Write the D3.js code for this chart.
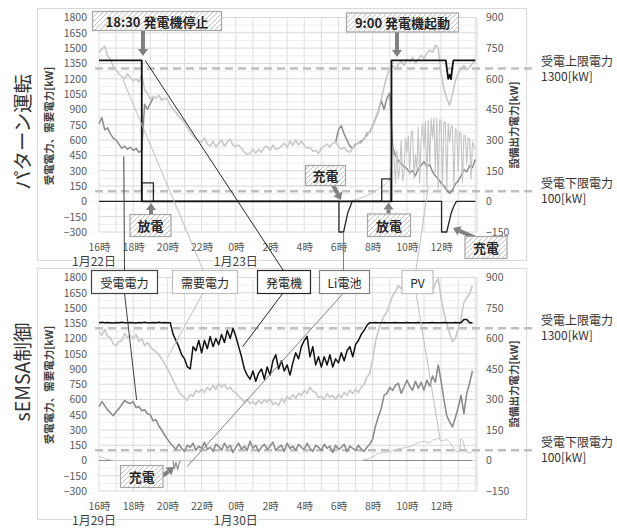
<!DOCTYPE html>
<meta charset="utf-8">
<style>
body { margin: 0; background: #fff; }
svg text { font-family: "Noto Sans CJK JP", "Noto Sans", sans-serif; }
.tick text { fill: #595959; font-size: 10.5px; }
</style>
<svg width="617" height="528"></svg>
<script src="https://cdn.jsdelivr.net/npm/d3@7/dist/d3.min.js"></script>
<script>

// ---- data (hours after 16:00, 10 minute steps unless noted) ----
var STEP = 10 / 60;
var leftTicks = [-300, -150, 0, 150, 300, 450, 600, 750, 900, 1050, 1200, 1350, 1500, 1650, 1800];
var rightTicks = [-150, 0, 150, 300, 450, 600, 750, 900];
var hourTicks = [0, 2, 4, 6, 8, 10, 12, 14, 16, 18, 20];
var hourLabels = ["16時", "18時", "20時", "22時", "0時", "2時", "4時", "6時", "8時", "10時", "12時"];
var datesTop = ["1月22日", "1月23日"];
var datesBottom = ["1月29日", "1月30日"];
var limits = [1300, 100];
var limitLabels = [["受電上限電力", "1300[kW]"], ["受電下限電力", "100[kW]"]];

// パターン運転 (1/22 - 1/23)
var topDemand = [1460,1490,1520,1420,1390,1320, 1290,1250,1220,1200,1250,1210, 1180,1200,1170,1240,1090,1060,
  1000,1030,1010,1040,990,1010, 1000,940,900,870,830,800, 770,720,680,640,610,590,
  580,620,560,540,590,530, 570,600,540,580,610,550, 540,550,520,480,460,470,
  510,470,510,480,530,540, 500,550,510,520,540,570, 530,590,550,600,550,590,
  550,520,530,490,500,470, 520,540,560,530,570,580, 540,510,530,490,480,520,
  550,580,570,620,640,690, 730,820,890,1000,1120,1230, 1300,1330,1290,1340,1370,1330,
  1390,1370,1410,1350,1390,1430, 1400,1450,1480,1460,1530,1500, 1250,1100,1010,940,1050,1180,
  1250,1300,1330,1290,1310,1350, 1390];
var topRecvA = [760,820,700,720,660,620, 600,560,520,540,510,530, 500,520,480,500, 950,900,960,1010];
var topRecvBStart = 83 * STEP;
var topRecvB = [575, 700,740,660,600,540,520, 560,570,590,610,660,680, 740,810,880,990,900,1010,
  1060,540,450,400,370,340, 320,280,300,250,320,350, 390,340,360,290,250,220,
  180,150,110,80,110,170, 200,250,310,290,350,330, 410];
var topPvMorningStart = 14.5;
var topPvMorning = [0,2,5,8,12,17,22,28,34,41,50,60,70,80,90,105];
var topPvDayStart = 17; // 5 minute steps
var topPvDay = [105,180,270,210,90,250,110,160,300,100, 140,310,240,320,130,335,345,110,230,160,
  365,90,300,380,260,390,70,395,180,405, 310,410,140,405,60,400,395,80,390,385,
  60,380,290,370,365,70,355,350,150,340, 335,90,325,320,180,312,305,110,290,270, 255];
var topGenTime = [0, 2.5, 2.5, 17.1, 17.1, 20.28, 20.35, 20.42, 20.5, 20.58, 20.65, 20.72, 22];
var topGenValue = [690, 690, 0, 0, 690, 690, 640, 600, 620, 598, 650, 690, 690];
var topBattTime = [0, 2.5, 2.5, 3.18, 3.18, 14.03, 14.03, 14.3, 14.55, 14.7, 14.8, 16.53, 16.53, 17.08, 17.08,
  20.03, 20.03, 20.33, 20.6, 20.75, 20.9, 22];
var topBattValue = [0, 0, 90, 90, 0, 0, -150, -150, -54, -23, 0, 0, 110, 110, 0,
  0, -150, -150, -54, -23, 0, 0];

// sEMSA制御 (1/29 - 1/30)
var botDemand = [1270,1230,1290,1220,1210,1150, 1130,1170,1180,1250,1210,1230, 1200,1240,1170,1200,1130,1160,
  1120,1090,1070,1040,1000,950, 900,850,790,730,680,640, 620,590,650,630,690,670,
  700,670,720,690,740,700, 760,720,750,700,720,680, 670,630,610,570,600,560,
  580,550,590,560,600,570, 610,550,570,540,610,570, 630,600,650,610,660,640,
  690,660,720,680,670,620, 630,600,660,620,640,600, 650,620,670,640,690,660,
  700,670,720,750,820,860, 990,1170,1280,1360,1420,1460, 1540,1620,1660,1720,1690,1730,
  1680,1740,1700,1770,1710,1690, 1720,1640,1690,1660,1740,1790, 1600,1450,1350,1250,1170,1200,
  1300,1400,1550,1600,1640,1720];
var botRecv = [530,580,540,500,470,440, 480,510,550,590,570,560, 580,520,530,490,500,460,
  450,390,400,340,300,250, 210,170,140,110,160,120, 90,150,130,170,100,140,
  120,180,110,130,90,160, 140,100,170,120,150,80, 130,170,110,140,100,190,
  120,150,90,130,160,110, 140,180,100,130,150,90, 170,120,140,100,160,130,
  110,170,120,90,150,130, 100,160,120,140,80,150, 110,130,160,90,140,120,
  100,150,110,90,130,160, 210,340,430,510,640,660, 720,690,740,760,660,720,
  790,730,690,780,710,770, 690,790,730,830,770,940, 780,600,440,380,330,420,
  520,640,460,660,760,880];
var botGen = [678,680,677,679,678,676, 679,678,680,677,678,679, 678,676,679,678,680,678,
  677,679,678,680,677,679, 678,677,620,590,560,520, 500,460,450,560,540,590,
  530,590,550,610,560,600, 570,620,580,640,600,650, 610,560,510,450,420,400,
  440,390,430,450,400,460, 420,490,520,450,490,440, 470,420,480,530,500,560,
  590,610,510,560,470,510, 460,510,470,520,460,500, 480,530,490,540,560,510,
  570,590,620,640,665,678, 678,679,677,678,679,678, 677,678,679,678,677,678,
  679,678,677,678,679,678, 678,677,678,679,678,677, 678,679,678,677,678,679,
  678,678,694,694,678,678];
var botBattTime = [0, 4.33, 4.4, 4.5, 4.6, 4.7, 4.8, 21.8];
var botBattValue = [0, 0, -40, -10, -45, -8, 0, 0];
var botPvTime = [0,0.17,0.33,0.5,0.67,0.83, 15.4,15.5,15.67,15.83, 16,16.17,16.33,16.5,16.67,16.83,
  17,17.17,17.33,17.5,17.67,17.83, 18,18.17,18.33,18.5,18.67,18.83, 19,19.17,19.33,19.5,19.67,19.83,
  20,20.17,20.33,20.5,20.67,20.83, 21,21.08,21.15,21.3,21.4,21.6,21.8];
var botPvValue = [20,15,10,6,3,0, 0,4,8,12, 18,26,34,38,40,42, 44,48,54,57,60,62, 65,68,72,82,88,92,
  95,90,86,100,104,110, 96,100,104,90,72,46, 44,46,110,96,46,36,44];

// ---- helpers ----
function seq(values, start, step) {
  return values.map(function(v, i) { return {t: start + i * step, v: v}; });
}
function pairs(times, values) {
  return times.map(function(t, i) { return {t: t, v: values[i]}; });
}

var svg = d3.select("svg");
var x = d3.scaleLinear().domain([0, 22.1]).range([99, 477]);

var defs = svg.append("defs");
defs.append("pattern")
  .attr("id", "hatch").attr("width", 5).attr("height", 5)
  .attr("patternUnits", "userSpaceOnUse")
  .append("path")
  .attr("d", "M-1,1 L1,-1 M0,5 L5,0 M4,6 L6,4")
  .attr("stroke", "#c4c4c4").attr("stroke-width", 1);

var panels = [
  {
    y0: 232, y1: 17.5, frame: [8, 260], dates: datesTop, side: "パターン運転", sideY: 132,
    series: [
      {data: seq(topRecvA, 0, STEP), axis: "L", color: "#8c8c8c", width: 1.5},
      {data: seq(topRecvB, topRecvBStart, STEP), axis: "L", color: "#8c8c8c", width: 1.5},
      {data: seq(topDemand, 0, STEP), axis: "L", color: "#c8c8c8", width: 1.6},
      {data: seq(topPvMorning, topPvMorningStart, STEP), axis: "R", color: "#c8c8c8", width: 1},
      {data: seq(topPvDay, topPvDayStart, 5 / 60), axis: "R", color: "#c4c4c4", width: 1.1},
      {data: pairs(topBattTime, topBattValue), axis: "R", color: "#262626", width: 1.3},
      {data: pairs(topGenTime, topGenValue), axis: "R", color: "#111", width: 1.8}
    ]
  },
  {
    y0: 491, y1: 277.5, frame: [268, 519], dates: datesBottom, side: "sEMSA制御", sideY: 372,
    series: [
      {data: seq(botDemand, 0, STEP), axis: "L", color: "#c8c8c8", width: 1.6},
      {data: seq(botRecv, 0, STEP), axis: "L", color: "#8c8c8c", width: 1.6},
      {data: seq(botGen, 0, STEP), axis: "R", color: "#111", width: 1.5},
      {data: pairs(botBattTime, botBattValue), axis: "R", color: "#8c8c8c", width: 1.2},
      {data: pairs(botPvTime, botPvValue), axis: "R", color: "#c8c8c8", width: 1}
    ]
  }
];

panels.forEach(function(p) {
  p.yL = d3.scaleLinear().domain([-300, 1800]).range([p.y0, p.y1]);
  p.yR = d3.scaleLinear().domain([-150, 900]).range([p.y0, p.y1]);
  var g = svg.append("g");

  // chart frame
  g.append("rect")
    .attr("x", 37.5).attr("y", p.frame[0] + 0.5)
    .attr("width", 489).attr("height", p.frame[1] - p.frame[0])
    .attr("fill", "none").attr("stroke", "#d9d9d9");

  // grid
  g.selectAll(".minor").data(leftTicks.slice(1)).enter().append("line")
    .attr("x1", x(0)).attr("x2", x.range()[1])
    .attr("y1", function(d) { return p.yL(d - 75); }).attr("y2", function(d) { return p.yL(d - 75); })
    .attr("stroke", "#efefef");
  g.selectAll(".hgrid").data(leftTicks).enter().append("line")
    .attr("x1", x(0)).attr("x2", x.range()[1])
    .attr("y1", function(d) { return p.yL(d); }).attr("y2", function(d) { return p.yL(d); })
    .attr("stroke", "#d9d9d9");
  g.selectAll(".vgrid").data(d3.range(0, 23)).enter().append("line")
    .attr("x1", function(d) { return x(d); }).attr("x2", function(d) { return x(d); })
    .attr("y1", p.y1).attr("y2", p.y0)
    .attr("stroke", "#dedede");
  g.append("line")
    .attr("x1", x.range()[1]).attr("x2", x.range()[1])
    .attr("y1", p.y1).attr("y2", p.y0).attr("stroke", "#d9d9d9");

  // limit lines
  limits.forEach(function(l, i) {
    g.append("line")
      .attr("x1", 95).attr("x2", 533)
      .attr("y1", p.yL(l)).attr("y2", p.yL(l))
      .attr("stroke", "#bfbfbf").attr("stroke-width", 2.5)
      .attr("stroke-dasharray", "8,5");
    var t = g.append("text").attr("x", 541).attr("font-size", 12).attr("fill", "#333");
    t.append("tspan").attr("x", 541).attr("y", p.yL(l) - 3).text(limitLabels[i][0]);
    t.append("tspan").attr("x", 541).attr("y", p.yL(l) + 12).text(limitLabels[i][1]);
  });

  // axes
  g.append("g").attr("transform", "translate(" + x(0) + ",0)")
    .call(d3.axisLeft(p.yL).tickValues(leftTicks).tickSize(0).tickPadding(12).tickFormat(d3.format("d")))
    .call(function(a) { a.select(".domain").remove(); });
  g.append("g").attr("transform", "translate(" + x.range()[1] + ",0)")
    .call(d3.axisRight(p.yR).tickValues(rightTicks).tickSize(0).tickPadding(9).tickFormat(d3.format("d")))
    .call(function(a) { a.select(".domain").remove(); });
  g.append("g").attr("transform", "translate(0," + p.y0 + ")")
    .call(d3.axisBottom(x).tickValues(hourTicks).tickSize(0).tickPadding(12)
      .tickFormat(function(d, i) { return hourLabels[i]; }))
    .call(function(a) { a.select(".domain").remove(); });

  // date labels on the frame
  g.selectAll(".date").data(p.dates).enter().append("text")
    .attr("x", function(d, i) { return i === 0 ? x(0) - 5 : x(8); })
    .attr("y", p.frame[1] + 6)
    .attr("text-anchor", "middle").attr("font-size", 12).attr("fill", "#404040")
    .attr("stroke", "#fff").attr("stroke-width", 4).attr("paint-order", "stroke")
    .text(function(d) { return d; });

  // titles
  g.append("text")
    .attr("transform", "translate(21," + p.sideY + ") rotate(-90)")
    .attr("text-anchor", "middle").attr("dominant-baseline", "central")
    .attr("font-size", 19.5).attr("fill", "#333").text(p.side);
  g.append("text")
    .attr("transform", "translate(48.5," + (p.y0 - 106) + ") rotate(-90)")
    .attr("text-anchor", "middle").attr("dominant-baseline", "central")
    .attr("font-size", 10.5).attr("font-weight", 700).attr("fill", "#404040")
    .text("受電電力、需要電力[kW]");
  g.append("text")
    .attr("transform", "translate(513.5," + (p.y0 - 107) + ") rotate(-90)")
    .attr("text-anchor", "middle").attr("dominant-baseline", "central")
    .attr("font-size", 10.5).attr("font-weight", 700).attr("fill", "#404040")
    .text("設備出力電力[kW]");

  // series
  p.series.forEach(function(s) {
    var y = s.axis === "L" ? p.yL : p.yR;
    var line = d3.line()
      .x(function(d) { return x(d.t); })
      .y(function(d) { return y(d.v); });
    g.append("path").datum(s.data)
      .attr("d", line)
      .attr("fill", "none").attr("stroke", s.color)
      .attr("stroke-width", s.width).attr("stroke-linejoin", "round");
  });
});

var topPanel = panels[0], botPanel = panels[1];

// ---- callouts from the label row to both panels ----
var callouts = [
  {text: "受電電力", box: [91, 66], stroke: "#404040",
    a: [1.45, 440, "L"], b: [2.2, 595, "L"], cx: 124.5},
  {text: "需要電力", box: [172, 65], stroke: "#bfbfbf",
    a: [1.4, 1190, "L"], b: [4.03, 1020, "L"], cx: 203},
  {text: "発電機", box: [257, 53], stroke: "#262626",
    a: [2.7, 690, "R"], b: [8.4, 560, "R"], cx: 283},
  {text: "Li電池", box: [319, 50], stroke: "#808080",
    a: [14.3, -150, "R"], b: [5.15, -30, "R"], cx: 343.5},
  {text: "PV", box: [401.5, 31], stroke: "#bfbfbf",
    a: [19.25, 70, "R"], b: [19.95, 103, "R"], cx: 416}
];
var cg = svg.append("g");
callouts.forEach(function(c) {
  var ya = c.a[2] === "L" ? topPanel.yL : topPanel.yR;
  var yb = c.b[2] === "L" ? botPanel.yL : botPanel.yR;
  cg.append("line")
    .attr("x1", x(c.a[0])).attr("y1", ya(c.a[1]))
    .attr("x2", c.cx).attr("y2", 270)
    .attr("stroke", c.stroke).attr("stroke-width", 1);
  cg.append("line")
    .attr("x1", c.cx).attr("y1", 293)
    .attr("x2", x(c.b[0])).attr("y2", yb(c.b[1]))
    .attr("stroke", c.stroke).attr("stroke-width", 1);
  cg.append("rect")
    .attr("x", c.box[0] + 0.5).attr("y", 270.5)
    .attr("width", c.box[1]).attr("height", 23)
    .attr("fill", "#fff").attr("stroke", c.stroke).attr("stroke-width", 1.2);
  cg.append("text")
    .attr("x", c.box[0] + c.box[1] / 2 + 0.5).attr("y", 282)
    .attr("text-anchor", "middle").attr("dominant-baseline", "central")
    .attr("font-size", 12).attr("fill", "#262626").text(c.text);
});

// ---- event notes with arrows ----
function arrow(x1, y1, x2, y2) {
  var ang = Math.atan2(y2 - y1, x2 - x1), hl = 7, hw = 5;
  var bx = x2 - hl * Math.cos(ang), by = y2 - hl * Math.sin(ang);
  cg.append("line")
    .attr("x1", x1).attr("y1", y1).attr("x2", bx).attr("y2", by)
    .attr("stroke", "#808080").attr("stroke-width", 4);
  cg.append("path")
    .attr("d", "M" + x2 + "," + y2 +
      "L" + (bx + hw * Math.sin(ang)) + "," + (by - hw * Math.cos(ang)) +
      "L" + (bx - hw * Math.sin(ang)) + "," + (by + hw * Math.cos(ang)) + "Z")
    .attr("fill", "#808080");
}

var notes = [
  {text: "18:30 発電機停止", r: [92, 11, 129, 19], ar: [143, 30, 143, 56]},
  {text: "9:00 発電機起動", r: [346, 12.5, 112, 19], ar: [397, 31.5, 397, 57]},
  {text: "放電", r: [129.5, 214, 41, 22], ar: [151, 214, 151, 203]},
  {text: "充電", r: [305, 165, 40, 20], ar: [333, 185, 341, 200]},
  {text: "放電", r: [367, 213.5, 43, 22.5], ar: [388.5, 213.5, 388.5, 202.5]},
  {text: "充電", r: [464.5, 236, 42, 22], ar: [476, 238, 453, 228]},
  {text: "充電", r: [120, 465, 42.5, 22], ar: [162.5, 476, 174, 467]}
];
notes.forEach(function(n) {
  arrow(n.ar[0], n.ar[1], n.ar[2], n.ar[3]);
  cg.append("rect")
    .attr("x", n.r[0] + 0.5).attr("y", n.r[1] + 0.5)
    .attr("width", n.r[2]).attr("height", n.r[3])
    .attr("fill", "#fff").attr("stroke", "none");
  cg.append("rect")
    .attr("x", n.r[0] + 0.5).attr("y", n.r[1] + 0.5)
    .attr("width", n.r[2]).attr("height", n.r[3])
    .attr("fill", "url(#hatch)").attr("stroke", "#a6a6a6").attr("stroke-width", 1.2);
  cg.append("text")
    .attr("x", n.r[0] + n.r[2] / 2 + 0.5).attr("y", n.r[1] + n.r[3] / 2 + 0.5)
    .attr("text-anchor", "middle").attr("dominant-baseline", "central")
    .attr("font-size", 13).attr("font-weight", 700).attr("fill", "#262626")
    .text(n.text);
});

</script>
